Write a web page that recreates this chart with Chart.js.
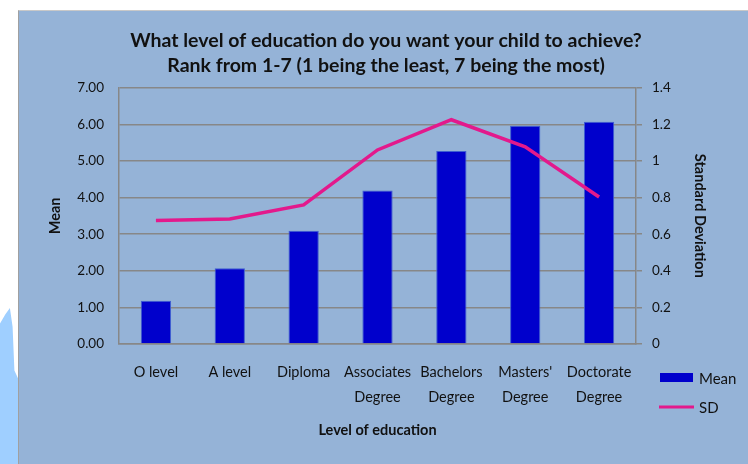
<!DOCTYPE html>
<html>
<head>
<meta charset="utf-8">
<script src="https://cdn.jsdelivr.net/npm/chart.js@4.4.0/dist/chart.umd.min.js"></script>
<style>
  body { margin: 0; background: #fff; width: 748px; height: 464px; overflow: hidden; position: relative; }
  #frame { position: absolute; left: 18px; top: 10px; width: 730px; height: 454px; background: #95b3d7;
    border-left: 1px solid #a0a0a0; border-top: 1px solid #c8c8c8; box-sizing: border-box; }
  #deco { position: absolute; left: 0; top: 308px; width: 18px; height: 156px; background: #9fcfff;
    clip-path: polygon(0 10%, 30% 4%, 55% 0, 70% 12%, 80% 40%, 100% 45%, 100% 100%, 0 100%); }
</style>
</head>
<body>
<div id="deco"></div>
<div id="frame"><canvas id="myChart" width="730" height="454"></canvas></div>
<script>
var categories = [['O level'], ['A level'], ['Diploma'], ['Associates', 'Degree'], ['Bachelors', 'Degree'], ["Masters'", 'Degree'], ['Doctorate', 'Degree']]
var meanData = [1.18, 2.07, 3.09, 4.19, 5.27, 5.96, 6.07]
var sdData = [0.674, 0.683, 0.76, 1.06, 1.225, 1.077, 0.803]

var font = 'Lato, "Open Sans", sans-serif'
var gridColor = '#878787'

// legend drawn by hand at the lower right, like the original
var sideLegend = {
  id: 'sideLegend',
  afterDraw(chart) {
    let ctx = chart.ctx
    let sets = chart.data.datasets
    let bars = sets.find((d) => d.type !== 'line')
    let line = sets.find((d) => d.type === 'line')
    ctx.save()
    ctx.fillStyle = bars.backgroundColor
    ctx.fillRect(641, 362, 33, 9)
    ctx.strokeStyle = line.borderColor
    ctx.lineWidth = 3
    ctx.beginPath()
    ctx.moveTo(640, 396)
    ctx.lineTo(675, 396)
    ctx.stroke()
    ctx.fillStyle = '#111'
    ctx.font = '15px ' + font
    ctx.textBaseline = 'middle'
    ctx.fillText(bars.label, 680, 368)
    ctx.fillText(line.label, 680, 397)
    ctx.restore()
  }
}

let ctx = document.getElementById('myChart').getContext('2d')
let myChart = new Chart(ctx, {
  type: 'bar',
  data: {
    labels: categories,
    datasets: [
      {
        type: 'line',
        label: 'SD',
        data: sdData,
        yAxisID: 'y1',
        borderColor: '#e3198c',
        borderWidth: 3.5,
        pointRadius: 0,
        tension: 0,
        order: 0,
      },
      {
        label: 'Mean',
        data: meanData,
        yAxisID: 'y',
        backgroundColor: '#0000cc',
        borderColor: '#3f5fd0',
        borderWidth: 1,
        barPercentage: 0.41,
        categoryPercentage: 1,
        order: 1,
      },
    ],
  },
  options: {
    responsive: false,
    animation: false,
    layout: { padding: { top: 0, bottom: 22, left: 12, right: 8 } },
    plugins: {
      legend: { display: false },
      tooltip: { enabled: false },
      title: {
        display: true,
        text: ['What level of education do you want your child to achieve?', 'Rank from 1-7 (1 being the least, 7 being the most)'],
        color: '#111',
        font: { family: font, size: 19.5, weight: 'bold', lineHeight: 1.3 },
        padding: { top: 17, bottom: 9 },
      },
    },
    scales: {
      x: {
        grid: { display: false },
        border: { display: true, color: gridColor, width: 1.5 },
        ticks: { color: '#111', font: { family: font, size: 14.5, lineHeight: 1.7 }, padding: 8, maxRotation: 0, autoSkip: false },
        title: { display: true, text: 'Level of education', color: '#111', font: { family: font, size: 14.5, weight: 'bold' }, padding: { top: 8 } },
        afterFit: (s) => { s.height = 99 },
      },
      y: {
        position: 'left',
        min: 0,
        max: 7,
        grid: { color: gridColor, lineWidth: 1.5, drawTicks: false },
        border: { display: true, color: gridColor, width: 1.5 },
        ticks: { stepSize: 1, color: '#111', font: { family: font, size: 13.5 }, padding: 15, callback: (v) => v.toFixed(2) },
        title: { display: true, text: 'Mean', color: '#111', font: { family: font, size: 14.5, weight: 'bold' }, padding: { top: 16 } },
        afterFit: (s) => { s.width = 88 },
      },
      y1: {
        position: 'right',
        min: 0,
        max: 1.4,
        grid: { drawOnChartArea: false, color: gridColor, lineWidth: 1.5, tickLength: 6 },
        border: { display: true, color: gridColor, width: 1.5 },
        ticks: { stepSize: 0.2, color: '#111', font: { family: font, size: 13.5 }, padding: 10, callback: (v) => Math.round(v * 10) / 10 },
        title: { display: true, text: 'Standard Deviation', color: '#111', font: { family: font, size: 14.5, weight: 'bold' }, padding: { top: 33 } },
        afterFit: (s) => { s.width = 105 },
      },
    },
  },
  plugins: [sideLegend],
})
</script>
</body>
</html>
